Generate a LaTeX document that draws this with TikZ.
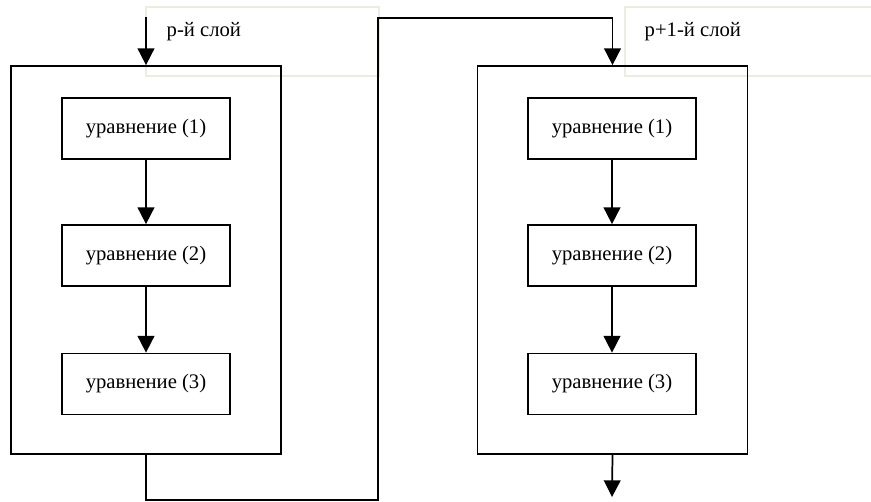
\documentclass[tikz,border=0pt]{standalone}
\usepackage{fontspec}
\setmainfont{Liberation Serif}
\usetikzlibrary{arrows.meta}

\definecolor{labelgray}{HTML}{EEEBE1}

\tikzset{
    outerbox/.style={draw, line width=1.3pt, minimum width=202.5pt, minimum height=291pt},
    eqbox/.style={draw, line width=1.3pt, minimum width=126pt, minimum height=45.75pt,
        font=\fontsize{15.5}{18}\selectfont},
    labelbox/.style={draw=labelgray, line width=1.2pt, anchor=north west},
    labeltext/.style={anchor=west, font=\fontsize{15.5}{18}\selectfont},
    flow/.style={-{Triangle[length=12.5pt,width=12.5pt]}, line width=1.3pt}
}

\begin{document}
\begin{tikzpicture}[x=0.75pt,y=-0.75pt]
\useasboundingbox (0,0) rectangle (871,501);

% layer labels
\node[labelbox, minimum width=174.75pt, minimum height=51.75pt] (lab1) at (145,6) {};
\node[labelbox, minimum width=195pt, minimum height=51.75pt] (lab2) at (624,6) {};
\node[labeltext] (txt1) at (162,32) {р-й слой};
\node[labeltext] (txt2) at (640,32) {р+1-й слой};

% layers
\node[outerbox] (layer1) at (146,260) {};
\node[outerbox] (layer2) at (612.5,260) {};

\begin{scope}[every node/.style={eqbox}]
    \node (eqA1) at (146,128.5) {уравнение (1)};
    \node (eqA2) at (146,255.5) {уравнение (2)};
    \node (eqA3) at (146,384) {уравнение (3)};
    \node (eqB1) at (612,128.5) {уравнение (1)};
    \node (eqB2) at (612,255.5) {уравнение (2)};
    \node (eqB3) at (612,384) {уравнение (3)};
\end{scope}

\coordinate (in1) at (146,17);
\coordinate (m1) at (378,500);
\coordinate (m2) at (378,18);
\coordinate (out2) at (612,497);

\begin{scope}[flow]
    \draw (in1) -- (layer1);

    \draw (eqA1) -- (eqA2);
    \draw (eqA2) -- (eqA3);

    \draw (eqB1) -- (eqB2);
    \draw (eqB2) -- (eqB3);

    \draw (layer1.south) |- (m1) -- (m2) -| (layer2.north);
    \draw (layer2.south) -- (out2);
\end{scope}

\end{tikzpicture}
\end{document}
